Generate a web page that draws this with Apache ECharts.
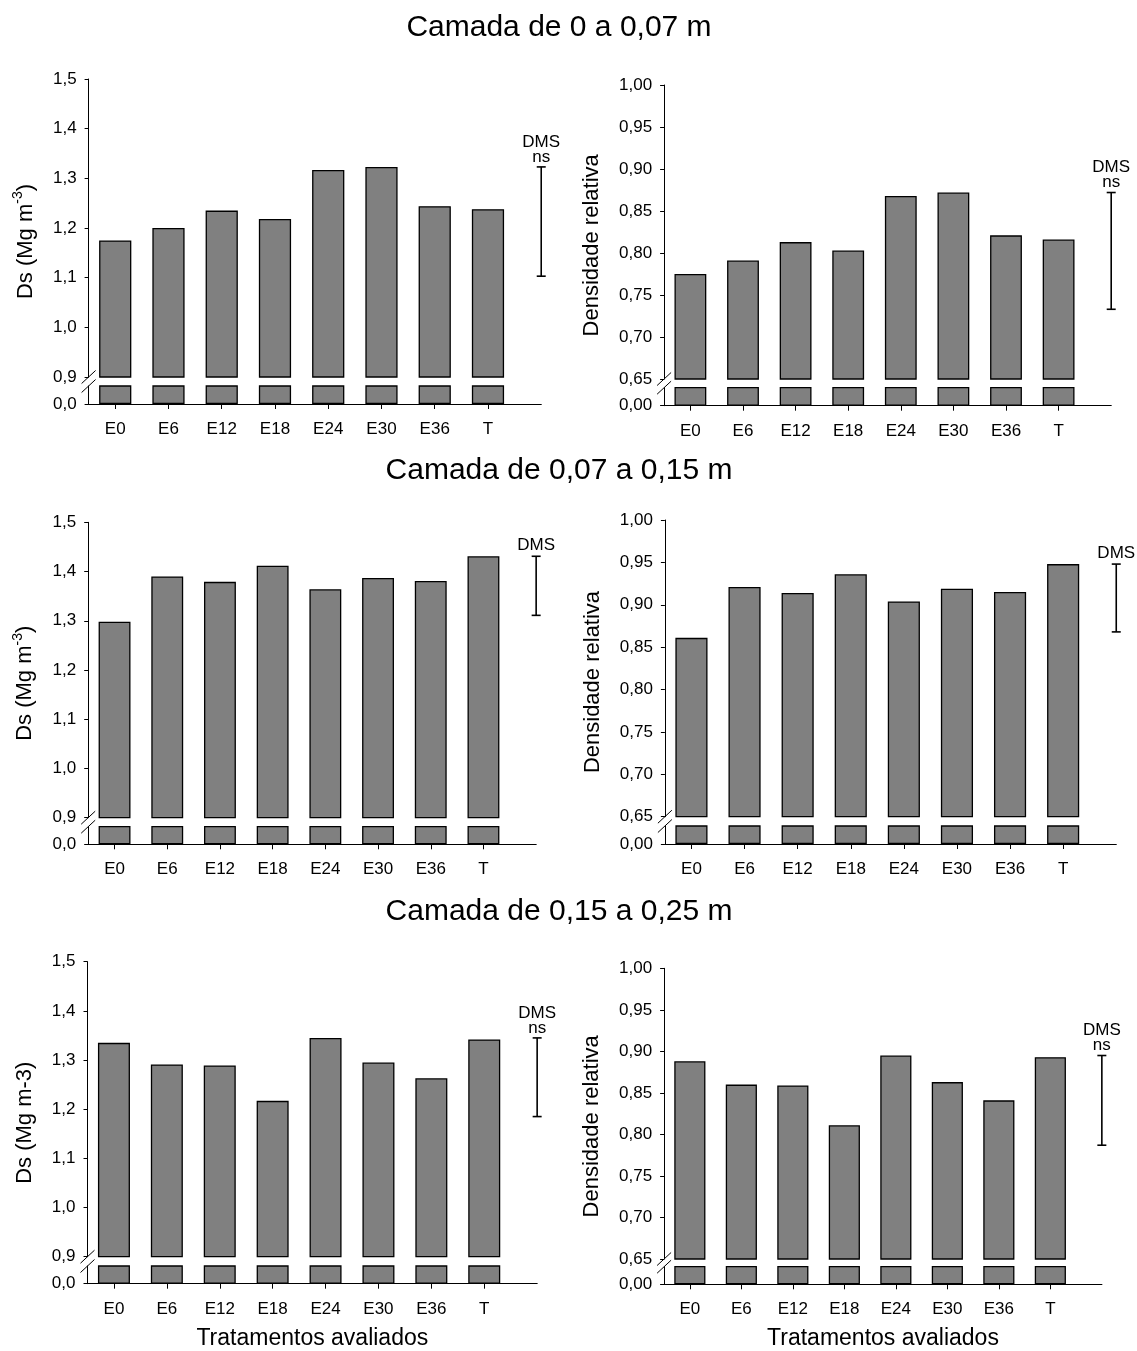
<!DOCTYPE html>
<html>
<head>
<meta charset="utf-8">
<script src="https://cdn.jsdelivr.net/npm/echarts@6/dist/echarts.min.js"></script>
<style>
html,body{margin:0;padding:0;background:#fff;}
#c{width:1137px;height:1351px;}
</style>
</head>
<body>
<div id="c"></div>
<script>
// ---------- DATA ----------
const categories = ['E0', 'E6', 'E12', 'E18', 'E24', 'E30', 'E36', 'T'];
const sectionTitles = ['Camada de 0 a 0,07 m', 'Camada de 0,07 a 0,15 m', 'Camada de 0,15 a 0,25 m'];
const xAxisTitle = 'Tratamentos avaliados';

// Soil bulk density Ds (Mg m-3)
const ds_0_007   = [1.175, 1.200, 1.235, 1.218, 1.317, 1.323, 1.244, 1.238];
const ds_007_015 = [1.298, 1.390, 1.379, 1.412, 1.364, 1.387, 1.381, 1.431];
const ds_015_025 = [1.335, 1.291, 1.289, 1.217, 1.345, 1.295, 1.263, 1.342];

// Relative density
const dr_0_007   = [0.775, 0.791, 0.813, 0.803, 0.868, 0.872, 0.821, 0.816];
const dr_007_015 = [0.861, 0.921, 0.914, 0.936, 0.904, 0.919, 0.915, 0.948];
const dr_015_025 = [0.888, 0.860, 0.859, 0.811, 0.895, 0.863, 0.841, 0.893];

// DMS bars [low, high]
const dmsDs_0_007   = [1.103, 1.323];
const dmsDs_007_015 = [1.311, 1.431];
const dmsDs_015_025 = [1.185, 1.345];
const dmsDr_0_007   = [0.733, 0.872];
const dmsDr_007_015 = [0.868, 0.948];
const dmsDr_015_025 = [0.787, 0.895];
const dmsLabel = 'DMS';
const dmsNotes = ['ns', '', 'ns'];

// Axis scales
const dsTicks = { min: 0.9, max: 1.5, interval: 0.1, decimals: 1 };
const drTicks = { min: 0.65, max: 1.0, interval: 0.05, decimals: 2 };
const dmsSlot = 8; // x position of the DMS bar (after the 8 treatments)

// ---------- LAYOUT ----------
const FONT = '"Liberation Sans", Arial, Helvetica, sans-serif';
const layout = [
  { ax: 88.6,  slot: 53.25, top: 79,    brk: 377,    lowTop: 386,    base: 404 },
  { ax: 664.1, slot: 52.6,  top: 85,    brk: 379,    lowTop: 387.7,  base: 405.7 },
  { ax: 88.2,  slot: 52.7,  top: 522.3, brk: 817.7,  lowTop: 826.7,  base: 844.3 },
  { ax: 664.9, slot: 53.1,  top: 520,   brk: 816.7,  lowTop: 826,    base: 844 },
  { ax: 87.5,  slot: 52.9,  top: 961.7, brk: 1256.7, lowTop: 1266,   base: 1283.7 },
  { ax: 664.1, slot: 51.5,  top: 968.3, brk: 1259,   lowTop: 1266.7, base: 1284.3 }
];
const panels = [
  { values: ds_0_007,   dms: dmsDs_0_007,   note: dmsNotes[0], ticks: dsTicks, ytitle: 'dsSup' },
  { values: dr_0_007,   dms: dmsDr_0_007,   note: dmsNotes[0], ticks: drTicks, ytitle: 'dr' },
  { values: ds_007_015, dms: dmsDs_007_015, note: dmsNotes[1], ticks: dsTicks, ytitle: 'dsSup' },
  { values: dr_007_015, dms: dmsDr_007_015, note: dmsNotes[1], ticks: drTicks, ytitle: 'dr' },
  { values: ds_015_025, dms: dmsDs_015_025, note: dmsNotes[2], ticks: dsTicks, ytitle: 'dsPlain' },
  { values: dr_015_025, dms: dmsDr_015_025, note: dmsNotes[2], ticks: drTicks, ytitle: 'dr' }
];

const fmt = (v, d) => Number(v).toFixed(d).replace('.', ',');
const catIdx = categories.map((c, i) => i);

const grids = [], xAxes = [], yAxes = [], series = [], graphics = [];
const axisColor = '#000';
const tickFont = { fontFamily: FONT, fontSize: 17, color: '#000' };

panels.forEach((p, k) => {
  const L = layout[k];
  const width = (dmsSlot + 0.5) * L.slot;
  const gU = 2 * k, gL = 2 * k + 1;
  grids.push({ left: L.ax, top: L.top, width: width, height: L.brk - L.top, containLabel: false, outerBoundsMode: 'none' });
  grids.push({ left: L.ax, top: L.lowTop, width: width, height: L.base - L.lowTop, containLabel: false, outerBoundsMode: 'none' });

  xAxes.push({ gridIndex: gU, type: 'value', min: -0.5, max: dmsSlot, show: false });
  xAxes.push({
    gridIndex: gL, type: 'value', min: -0.5, max: dmsSlot,
    axisLine: { show: true, onZero: false, lineStyle: { color: axisColor, width: 1.2 } },
    axisTick: { show: true, customValues: catIdx, length: 5, lineStyle: { color: axisColor } },
    axisLabel: { customValues: catIdx, formatter: v => categories[Math.round(v)], margin: 17, ...tickFont },
    splitLine: { show: false }
  });

  const t = p.ticks;
  yAxes.push({
    gridIndex: gU, type: 'value', min: t.min, max: t.max, interval: t.interval,
    axisLine: { show: true, onZero: false, lineStyle: { color: axisColor, width: 1 } },
    axisTick: { show: true, length: 4, lineStyle: { color: axisColor } },
    axisLabel: { formatter: v => fmt(v, t.decimals), margin: 12, ...tickFont },
    splitLine: { show: false }
  });
  yAxes.push({
    gridIndex: gL, type: 'value', min: 0, max: t.min, interval: t.min,
    axisLine: { show: true, onZero: false, lineStyle: { color: axisColor, width: 1 } },
    axisTick: { show: true, customValues: [0], length: 4, lineStyle: { color: axisColor } },
    axisLabel: { customValues: [0], showMaxLabel: false, formatter: v => (v === 0 ? fmt(0, t.decimals) : ''), margin: 12, ...tickFont },
    splitLine: { show: false }
  });

  const barData = categories.map((c, i) => [i, p.values[i]]);
  const barStyle = { color: '#808080', borderColor: '#000', borderWidth: 1.3 };
  const bw = 0.605 * L.slot;
  series.push({ type: 'bar', xAxisIndex: gU, yAxisIndex: gU, data: barData, barWidth: bw, itemStyle: barStyle, clip: true, silent: true });
  series.push({ type: 'bar', xAxisIndex: gL, yAxisIndex: gL, data: barData, barWidth: bw, itemStyle: barStyle, clip: true, silent: true });

  // DMS error bar
  series.push({
    type: 'custom', xAxisIndex: gU, yAxisIndex: gU, clip: false, silent: true,
    data: [[dmsSlot, p.dms[0], p.dms[1]]],
    renderItem: (params, api) => {
      const hi = api.coord([api.value(0), api.value(2)]);
      const lo = api.coord([api.value(0), api.value(1)]);
      const x = hi[0], cap = 4.5;
      const ls = { stroke: '#000', lineWidth: 1.6 };
      const children = [
        { type: 'line', shape: { x1: x, y1: hi[1], x2: x, y2: lo[1] }, style: ls },
        { type: 'line', shape: { x1: x - cap, y1: hi[1], x2: x + cap, y2: hi[1] }, style: ls },
        { type: 'line', shape: { x1: x - cap, y1: lo[1], x2: x + cap, y2: lo[1] }, style: ls }
      ];
      const txt = (s, y) => ({ type: 'text', style: { text: s, x: x, y: y, align: 'center', verticalAlign: 'middle', textAlign: 'center', textVerticalAlign: 'middle', font: '17px ' + FONT, fill: '#000' } });
      if (p.note) {
        children.push(txt(dmsLabel, hi[1] - 25));
        children.push(txt(p.note, hi[1] - 10));
      } else {
        children.push(txt(dmsLabel, hi[1] - 11));
      }
      return { type: 'group', children: children };
    }
  });

  // break marks on the y axis
  [L.brk, L.lowTop].forEach(y => {
    graphics.push({ type: 'line', silent: true, shape: { x1: L.ax - 7, y1: y + 6.5, x2: L.ax + 7, y2: y - 6.5 }, style: { stroke: '#000', lineWidth: 1 } });
  });

  // y axis title
  const cy = (L.top + L.base) / 2;
  const cx = (k % 2 === 0) ? L.ax - 63 : L.ax - 72;
  let text;
  if (p.ytitle === 'dsSup') {
    text = '{a|Ds (Mg m}{s|-3}{a|)}';
  } else if (p.ytitle === 'dsPlain') {
    text = '{a|Ds (Mg m-3)}';
  } else {
    text = '{a|Densidade relativa}';
  }
  const rich = {
    a: { fontFamily: FONT, fontSize: 22, lineHeight: 28, fill: '#000', color: '#000' },
    s: { fontFamily: FONT, fontSize: 14, lineHeight: 14, verticalAlign: 'top', fill: '#000', color: '#000' }
  };
  graphics.push({
    type: 'text', x: cx, y: cy, rotation: Math.PI / 2, silent: true,
    style: { text: text, rich: rich, align: 'center', verticalAlign: 'middle', textAlign: 'center', textVerticalAlign: 'middle', fill: '#000' }
  });

  // x axis title (bottom row only)
  if (k >= 4) {
    graphics.push({
      type: 'text', x: L.ax + width / 2, y: 1339, silent: true,
      style: { text: xAxisTitle, font: '23px ' + FONT, fill: '#000', align: 'center', verticalAlign: 'middle', textAlign: 'center', textVerticalAlign: 'middle' }
    });
  }
});

// section titles
const titleY = [28, 471, 912];
sectionTitles.forEach((s, i) => {
  graphics.push({
    type: 'text', x: 559, y: titleY[i], silent: true,
    style: { text: s, font: '30px ' + FONT, fill: '#000', align: 'center', verticalAlign: 'middle', textAlign: 'center', textVerticalAlign: 'middle' }
  });
});

const chart = echarts.init(document.getElementById('c'));
chart.setOption({
  animation: false,
  backgroundColor: '#fff',
  grid: grids,
  xAxis: xAxes,
  yAxis: yAxes,
  series: series,
  graphic: { elements: graphics }
});
</script>
</body>
</html>
